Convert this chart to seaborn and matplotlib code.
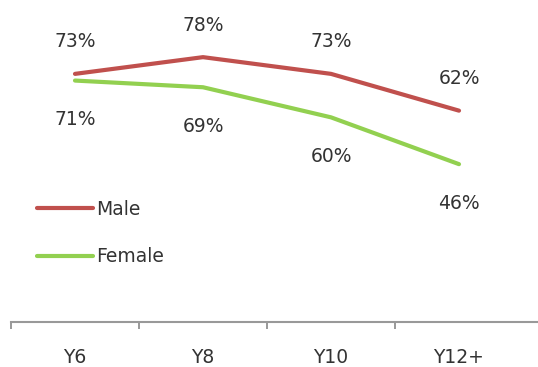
import matplotlib
matplotlib.use("Agg")
import matplotlib.pyplot as plt
import seaborn as sns
import pandas as pd
from matplotlib.lines import Line2D

categories = ["Y6", "Y8", "Y10", "Y12+"]
male = [73, 78, 73, 62]
female = [71, 69, 60, 46]

sns.set_theme(style="white")
plt.rcParams['font.family'] = ['DejaVu Sans']

df = pd.DataFrame({
    "Year": categories * 2,
    "Value": male + female,
    "Gender": ["Male"] * 4 + ["Female"] * 4,
})
df["x"] = list(range(4)) * 2

FS = 13.5
TXT = "#333333"

fig = plt.figure(figsize=(5.38, 3.67), dpi=100)
ax = fig.add_axes([11/538, (367-322)/367, 527/538, (322-10)/367])
palette = {"Male": "#C0504D", "Female": "#92D050"}
sns.lineplot(data=df, x="x", y="Value", hue="Gender", palette=palette,
             linewidth=3.0, ax=ax, legend=False, sort=False)

ax.set_xlim(-0.5, -0.5 + 527/128)
ax.set_ylim(-1.2, 92.1)
ax.set_xticks(range(4))
ax.set_xticklabels(categories, fontsize=FS, color=TXT)
ax.set_xticks([-0.5, 0.5, 1.5, 2.5], minor=True)
ax.tick_params(axis="x", which="major", length=0, pad=19)
ax.tick_params(axis="x", which="minor", length=5, width=1.2, color="#888888", direction="out", bottom=True)
ax.set_yticks([])
ax.set_xlabel("")
ax.set_ylabel("")
for s in ["top", "left", "right"]:
    ax.spines[s].set_visible(False)
ax.spines["bottom"].set_color("#999999")
ax.spines["bottom"].set_linewidth(1.5)

for i, v in enumerate(male):
    ax.annotate(f"{v}%", (i, v), xytext=(0, 23), textcoords="offset points",
                ha="center", va="center", fontsize=FS, color=TXT)
for i, v in enumerate(female):
    ax.annotate(f"{v}%", (i, v), xytext=(0, -28), textcoords="offset points",
                ha="center", va="center", fontsize=FS, color=TXT)

handles = [Line2D([], [], color=palette["Male"], lw=3.0),
           Line2D([], [], color=palette["Female"], lw=3.0)]
leg = fig.legend(handles, ["Male", "Female"], loc="upper left",
                 bbox_to_anchor=(37/538, (367-200)/367), frameon=False,
                 fontsize=FS, handlelength=3.0, handletextpad=0.15,
                 labelspacing=1.52, borderpad=0, borderaxespad=0)
for t in leg.get_texts():
    t.set_color(TXT)

fig.savefig("out.png", dpi=100)
